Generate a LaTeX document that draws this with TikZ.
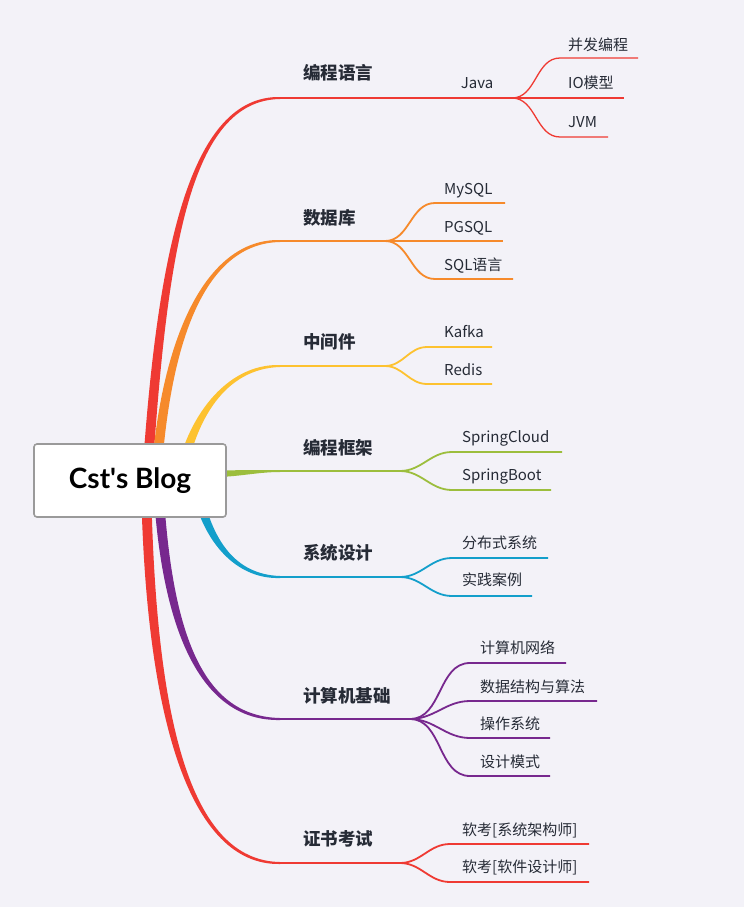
\documentclass[tikz,border=0pt]{standalone}
\usepackage{fontspec}
\setmainfont{Noto Sans CJK SC}
\newfontfamily\latinfont{Lato}
\usetikzlibrary{calc}
\definecolor{bg}{HTML}{F3F2F8}
\definecolor{cred}{HTML}{EF3A33}
\definecolor{corange}{HTML}{F68A2B}
\definecolor{cyellow}{HTML}{FDC230}
\definecolor{cgreen}{HTML}{9CBE3D}
\definecolor{cblue}{HTML}{139FCB}
\definecolor{cpurple}{HTML}{77288E}
\definecolor{txt}{HTML}{262B36}
\definecolor{boxgray}{HTML}{9A9A9A}
\newcommand{\taper}[7]{%
  \fill[#1] ($(#2)+(-5,0)$) .. controls +(#4) and +($(#5)+(0,1.5*#6)$) .. ($(#3)+(0,#6)$) -- ($(#3)+(0,#7)$) .. controls +($(#5)+(0,1.5*#7)$) and +(#4) .. ($(#2)+(5,0)$) -- cycle;}
\begin{document}
\begin{tikzpicture}[x=1pt,y=-1pt,
  mainlbl/.style={anchor=base west,inner sep=0pt,text=txt,font=\fontsize{17.5}{20}\selectfont\bfseries},
  sublbl/.style={anchor=base west,inner sep=0pt,text=txt,font=\fontsize{15}{18}\selectfont},
  mline/.style={line width=2pt},
  sline/.style={line width=1.8pt},
  jline/.style={line width=1.3pt},
  rootbox/.style={draw=boxgray,fill=white,rounded corners=3pt,line width=1.6pt,minimum width=192pt,minimum height=73pt,inner sep=0pt,text=black,font=\latinfont\bfseries\fontsize{28}{32}\selectfont}]
\fill[bg] (0,0) rectangle (744,907);
\useasboundingbox (0,0) rectangle (744,907);

% ---------- main branch coordinates ----------
\coordinate (r1) at (147,480); \coordinate (s1) at (280,98);  \coordinate (x1) at (512,98);
\coordinate (r2) at (156,480); \coordinate (s2) at (280,241); \coordinate (x2) at (385,241);
\coordinate (r3) at (180,480); \coordinate (s3) at (280,366); \coordinate (x3) at (385,366);
\coordinate (r4) at (205,474); \coordinate (s4) at (280,471); \coordinate (x4) at (400,471);
\coordinate (r5) at (195,480); \coordinate (s5) at (280,577); \coordinate (x5) at (400,577);
\coordinate (r6) at (158,480); \coordinate (s6) at (280,719); \coordinate (x6) at (410,719);
\coordinate (r7) at (146,480); \coordinate (s7) at (280,863); \coordinate (x7) at (400,863);

% tapered root connectors
\taper{cred}{r1}{s1}{15,-230}{-90,0}{-1}{1}
\taper{corange}{r2}{s2}{9,-140}{-75,0}{-1}{1}
\taper{cyellow}{r3}{s3}{10,-60}{-55,0}{-1}{1}
\fill[cgreen] ($(r4)+(0,-3)$) .. controls +(30,-1) and +(-25,0) .. ($(s4)+(0,-1)$) -- ($(s4)+(0,1)$) .. controls +(-25,0) and +(30,1) .. ($(r4)+(0,3)$) -- cycle;
\taper{cblue}{r5}{s5}{10,60}{-45,0}{1}{-1}
\taper{cpurple}{r6}{s6}{8,160}{-75,0}{1}{-1}
\taper{cred}{r7}{s7}{4,240}{-90,0}{1}{-1}

% main horizontal lines
\draw[mline,cred] (s1) -- (x1);
\draw[mline,corange] (s2) -- (x2);
\draw[mline,cyellow] (s3) -- (x3);
\draw[mline,cgreen] (s4) -- (x4);
\draw[mline,cblue] (s5) -- (x5);
\draw[mline,cpurple] (s6) -- (x6);
\draw[mline,cred] (s7) -- (x7);

% root
\node[rootbox] (root) at (130,480.5) {Cst\textquotesingle s Blog};

% main labels
\node[mainlbl] (m1) at (303,79.6) {编程语言};
\node[mainlbl] (m2) at (303,224.6) {数据库};
\node[mainlbl] (m3) at (303,348.6) {中间件};
\node[mainlbl] (m4) at (303,454.6) {编程框架};
\node[mainlbl] (m5) at (303,559.6) {系统设计};
\node[mainlbl] (m6) at (303,702.6) {计算机基础};
\node[mainlbl] (m7) at (303,845.6) {证书考试};

% ---------- branch 1: Java ----------
\node[sublbl,anchor=base] (java) at (477,88.5) {Java};
\coordinate (a11) at (560,58);  \coordinate (e11) at (638,58);
\coordinate (e12) at (624,98);
\coordinate (a13) at (560,137); \coordinate (e13) at (608,137);
\draw[jline,cred] (x1) to[out=0,in=180] (a11) -- (e11);
\draw[jline,cred] (x1) -- (e12);
\draw[jline,cred] (x1) to[out=0,in=180] (a13) -- (e13);
\node[sublbl] (n11) at (568,50.5) {并发编程};
\node[sublbl] (n12) at (568,88.5) {IO模型};
\node[sublbl] (n13) at (568,127.5) {JVM};

% ---------- branch 2 ----------
\coordinate (a21) at (435,203); \coordinate (e21) at (505,203);
\coordinate (e22) at (503,241);
\coordinate (a23) at (435,279); \coordinate (e23) at (513,279);
\draw[sline,corange] (x2) to[out=0,in=180] (a21) -- (e21);
\draw[sline,corange] (x2) -- (e22);
\draw[sline,corange] (x2) to[out=0,in=180] (a23) -- (e23);
\node[sublbl] (n21) at (444,194.5) {MySQL};
\node[sublbl] (n22) at (444,232.5) {PGSQL};
\node[sublbl] (n23) at (444,270.5) {SQL语言};

% ---------- branch 3 ----------
\coordinate (a31) at (427,347); \coordinate (e31) at (492,347);
\coordinate (a32) at (427,384); \coordinate (e32) at (492,384);
\draw[sline,cyellow] (x3) to[out=0,in=180] (a31) -- (e31);
\draw[sline,cyellow] (x3) to[out=0,in=180] (a32) -- (e32);
\node[sublbl] (n31) at (444,337.5) {Kafka};
\node[sublbl] (n32) at (444,375.5) {Redis};

% ---------- branch 4 ----------
\coordinate (a41) at (452,452); \coordinate (e41) at (562,452);
\coordinate (a42) at (452,490); \coordinate (e42) at (551,490);
\draw[sline,cgreen] (x4) to[out=0,in=180] (a41) -- (e41);
\draw[sline,cgreen] (x4) to[out=0,in=180] (a42) -- (e42);
\node[sublbl] (n41) at (462,442.5) {SpringCloud};
\node[sublbl] (n42) at (462,480.5) {SpringBoot};

% ---------- branch 5 ----------
\coordinate (a51) at (452,558); \coordinate (e51) at (548,558);
\coordinate (a52) at (452,596); \coordinate (e52) at (532,596);
\draw[sline,cblue] (x5) to[out=0,in=180] (a51) -- (e51);
\draw[sline,cblue] (x5) to[out=0,in=180] (a52) -- (e52);
\node[sublbl] (n51) at (462,548.5) {分布式系统};
\node[sublbl] (n52) at (462,585.5) {实践案例};

% ---------- branch 6 ----------
\coordinate (a61) at (470,663); \coordinate (e61) at (566,663);
\coordinate (a62) at (470,701); \coordinate (e62) at (597,701);
\coordinate (a63) at (470,738); \coordinate (e63) at (550,738);
\coordinate (a64) at (470,776); \coordinate (e64) at (550,776);
\draw[sline,cpurple] (x6) to[out=0,in=180] (a61) -- (e61);
\draw[sline,cpurple] (x6) to[out=0,in=180] (a62) -- (e62);
\draw[sline,cpurple] (x6) to[out=0,in=180] (a63) -- (e63);
\draw[sline,cpurple] (x6) to[out=0,in=180] (a64) -- (e64);
\node[sublbl] (n61) at (480,653.5) {计算机网络};
\node[sublbl] (n62) at (480,692.5) {数据结构与算法};
\node[sublbl] (n63) at (480,729.5) {操作系统};
\node[sublbl] (n64) at (480,767.5) {设计模式};

% ---------- branch 7 ----------
\coordinate (a71) at (450,844); \coordinate (e71) at (589,844);
\coordinate (a72) at (450,882); \coordinate (e72) at (589,882);
\draw[sline,cred] (x7) to[out=0,in=180] (a71) -- (e71);
\draw[sline,cred] (x7) to[out=0,in=180] (a72) -- (e72);
\node[sublbl] (n71) at (462,835.5) {软考[系统架构师]};
\node[sublbl] (n72) at (462,872.5) {软考[软件设计师]};
\end{tikzpicture}
\end{document}
